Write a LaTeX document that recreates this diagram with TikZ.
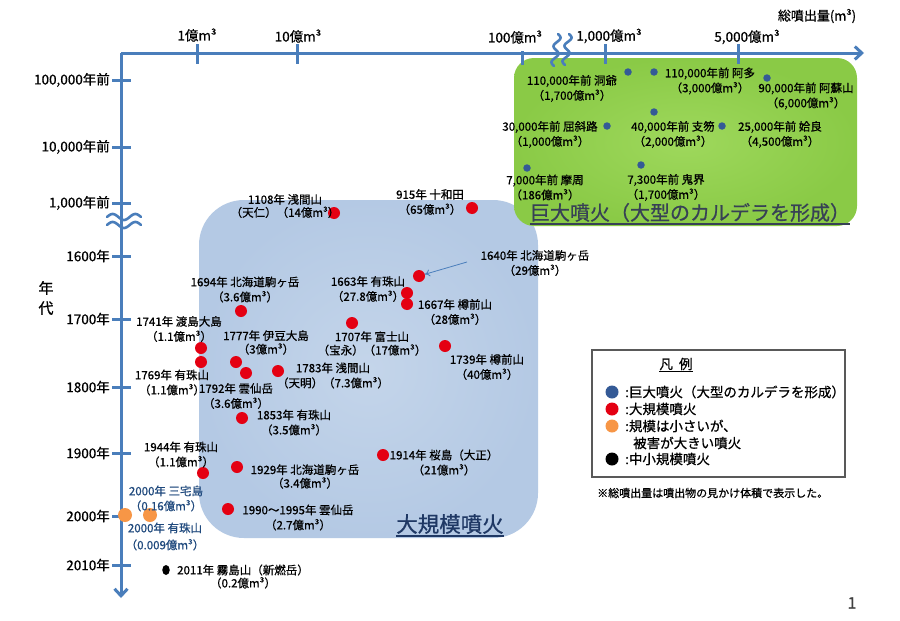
\documentclass[tikz,border=0pt]{standalone}
\usepackage{fontspec}
\setmainfont{Noto Sans CJK JP}[RawFeature={embolden=0.7}]
\usetikzlibrary{arrows.meta,shapes.geometric}
\definecolor{axisblue}{RGB}{74,126,187}
\definecolor{dotred}{RGB}{228,0,18}
\definecolor{dotblue}{RGB}{52,90,150}
\definecolor{dotorange}{RGB}{247,150,70}
\definecolor{bluein}{RGB}{196,213,234}
\definecolor{blueout}{RGB}{180,201,228}
\definecolor{greenin}{RGB}{158,216,92}
\definecolor{greenout}{RGB}{138,202,70}
\definecolor{navytext}{RGB}{31,73,125}
\definecolor{bigtitle}{RGB}{31,56,100}
\definecolor{titlegray}{RGB}{55,65,85}
\definecolor{legendgray}{RGB}{89,89,89}
\definecolor{pagegray}{RGB}{64,64,64}
\begin{document}
\begin{tikzpicture}[x=1pt,y=-1pt,
  lbl/.style={font=\fontsize{11.5}{15}\selectfont, align=center, inner sep=0pt, text=black},
  axlbl/.style={font=\fontsize{13.5}{16}\selectfont, inner sep=0pt},
  lgtext/.style={font=\fontsize{13.5}{16}\selectfont, inner sep=0pt, anchor=west},
  rdot/.style={circle, fill=dotred, minimum size=12pt, inner sep=0pt},
  bdot/.style={circle, fill=dotblue, minimum size=7.5pt, inner sep=0pt},
  odot/.style={circle, fill=dotorange, minimum size=14pt, inner sep=0pt},
  lgdot/.style={circle, minimum size=13pt, inner sep=0pt},
  axisline/.style={draw=axisblue, line width=3pt},
  axtick/.style={draw=axisblue, line width=3pt},
  wave/.style={draw=axisblue, line width=2.6pt, line cap=round},
]
\useasboundingbox (0,0) rectangle (900,621);
\fill[white] (0,0) rectangle (900,621);

% ---- background boxes ----
\shade[rounded corners=45pt, inner color=bluein, outer color=blueout] (199,200) rectangle (538,538);
\shade[rounded corners=20pt, inner color=greenin, outer color=greenout] (514,58) rectangle (857,226);

% ---- axes ----
\coordinate (origin) at (121,53);
\coordinate (xend) at (864,53);
\coordinate (yend) at (121,598);
\draw[axisline, -{Straight Barb[length=7pt,width=13pt]}] (origin) -- (xend);
\draw[axisline, -{Straight Barb[length=7pt,width=13pt]}] (origin) -- (yend);

% top ticks
\foreach \tx in {197,297,605,738} \draw[axtick] (\tx,44) -- (\tx,64);
\draw[axtick] (522,51) -- (522,65);
% left ticks
\foreach \ty in {80,147,203,256,319,387,453,516,565} \draw[axtick] (112,\ty) -- (131,\ty);

% break marks
\draw[wave] plot[domain=0:1, samples=40, smooth] ({558 - 4*\x + 3*sin(720*\x)}, {34 + 32*\x});
\draw[wave] plot[domain=0:1, samples=40, smooth] ({569 - 4*\x + 3*sin(720*\x)}, {34 + 31*\x});
\draw[wave] plot[domain=0:1, samples=40, smooth] ({107 + 34*\x}, {217 - 3*sin(540*\x)});
\draw[wave] plot[domain=0:1, samples=40, smooth] ({107 + 34*\x}, {225 - 3*sin(540*\x)});

% axis labels
\node[axlbl] (t1) at (197,35) {1億m³};
\node[axlbl] (t10) at (298,36) {10億m³};
\node[axlbl] (t100) at (515,37) {100億m³};
\node[axlbl] (t1000) at (609,36) {1,000億m³};
\node[axlbl] (t5000) at (747,37) {5,000億m³};
\node[axlbl, font=\fontsize{13}{15}\selectfont] (xtitle) at (817,16) {総噴出量(m³)};

\node[axlbl, anchor=east] (y1) at (110,80) {100,000年前};
\node[axlbl, anchor=east] (y2) at (110,147) {10,000年前};
\node[axlbl, anchor=east] (y3) at (110,203) {1,000年前};
\node[axlbl, anchor=east] (y4) at (110,256) {1600年};
\node[axlbl, anchor=east] (y5) at (110,319) {1700年};
\node[axlbl, anchor=east] (y6) at (110,387) {1800年};
\node[axlbl, anchor=east] (y7) at (110,453) {1900年};
\node[axlbl, anchor=east] (y8) at (110,516) {2000年};
\node[axlbl, anchor=east] (y9) at (110,565) {2010年};
\node[font=\fontsize{15}{20}\selectfont, align=center, inner sep=0pt] (ytitle) at (46,298) {年\\代};

% ---- giant eruptions (green box) ----
\node[bdot] (d_toya) at (628,72) {};
\node[lbl] (l_toya) at (572,88.5) {110,000年前 洞爺\\（1,700億m³）};
\node[bdot] (d_ata) at (654,72) {};
\node[lbl] (l_ata) at (710,81) {110,000年前 阿多\\（3,000億m³）};
\node[bdot] (d_aso) at (767,78) {};
\node[lbl] (l_aso) at (806,96) {90,000年前 阿蘇山\\（6,000億m³）};
\node[bdot] (d_kus) at (607,126) {};
\node[lbl] (l_kus) at (550,134.5) {30,000年前 屈斜路\\（1,000億m³）};
\node[bdot] (d_shi) at (654,112) {};
\node[lbl] (l_shi) at (673,134.5) {40,000年前 支笏\\（2,000億m³）};
\node[bdot] (d_aira) at (722,126) {};
\node[lbl] (l_aira) at (780,134.5) {25,000年前 姶良\\（4,500億m³）};
\node[bdot] (d_mas) at (527,168) {};
\node[lbl] (l_mas) at (545,187.5) {7,000年前 摩周\\（186億m³）};
\node[bdot] (d_kik) at (641,165) {};
\node[lbl] (l_kik) at (666,187.5) {7,300年前 鬼界\\（1,700億m³）};

\node[font=\fontsize{20}{22}\selectfont, text=titlegray, inner sep=0pt] (gtitle) at (690,212.5) {巨大噴火（大型のカルデラを形成）};
\draw[titlegray, line width=1.8pt] ([yshift=-1.5pt]gtitle.south west) -- ([yshift=-1.5pt]gtitle.south east);

% ---- large eruptions (blue box) ----
\node[rdot] (r1108) at (334,213) {};
\node[lbl, font=\fontsize{11.5}{13}\selectfont] (l1108) at (285,206) {1108年 浅間山\\（天仁）（14億m³）};
\node[rdot] (r915) at (472,208) {};
\node[lbl] (l915) at (430,202) {915年 十和田\\（65億m³）};
\node[rdot] (r1640) at (419,276) {};
\node[lbl] (l1640) at (535,263) {1640年 北海道駒ヶ岳\\（29億m³）};
\coordinate (a1640) at (467,262);
\draw[axisblue, line width=0.8pt, -{To[length=5pt,width=7pt]}] (a1640) -- (r1640);
\node[rdot] (r1663) at (407,293) {};
\node[lbl] (l1663) at (368,289) {1663年 有珠山\\（27.8億m³）};
\node[rdot] (r1667) at (407,304) {};
\node[lbl] (l1667) at (455,312) {1667年 樽前山\\（28億m³）};
\node[rdot] (r1694) at (241,311) {};
\node[lbl] (l1694) at (245,289.5) {1694年 北海道駒ヶ岳\\（3.6億m³）};
\node[rdot] (r1707) at (352,323) {};
\node[lbl, font=\fontsize{11.5}{13.5}\selectfont] (l1707) at (372,343.5) {1707年 富士山\\（宝永）（17億m³）};
\node[rdot] (r1739) at (445,346) {};
\node[lbl] (l1739) at (487,367) {1739年 樽前山\\（40億m³）};
\node[rdot] (r1741) at (201,348) {};
\node[lbl] (l1741) at (179,329) {1741年 渡島大島\\（1.1億m³）};
\node[rdot] (r1769) at (201,362) {};
\node[lbl] (l1769) at (172,382.5) {1769年 有珠山\\（1.1億m³）};
\node[rdot] (r1777) at (236,362) {};
\node[lbl, font=\fontsize{11.5}{13.5}\selectfont] (l1777) at (266,342.5) {1777年 伊豆大島\\（3億m³）};
\node[rdot] (r1792) at (246,373) {};
\node[lbl] (l1792) at (236,396) {1792年 雲仙岳\\（3.6億m³）};
\node[rdot] (r1783) at (278,371) {};
\node[lbl] (l1783) at (333,375.5) {1783年 浅間山\\（天明）（7.3億m³）};
\node[rdot] (r1853) at (242,418) {};
\node[lbl] (l1853) at (294,422.5) {1853年 有珠山\\（3.5億m³）};
\node[rdot] (r1944) at (203,473) {};
\node[lbl] (l1944) at (181,454.5) {1944年 有珠山\\（1.1億m³）};
\node[rdot] (r1929) at (237,467) {};
\node[lbl, font=\fontsize{11.5}{13.5}\selectfont] (l1929) at (305,476.5) {1929年 北海道駒ヶ岳\\（3.4億m³）};
\node[rdot] (r1914) at (383,455) {};
\node[lbl] (l1914) at (444,462.5) {1914年 桜島（大正）\\（21億m³）};
\node[rdot] (r1990) at (228,509) {};
\node[lbl] (l1990) at (298,517.5) {1990～1995年 雲仙岳\\（2.7億m³）};

\node[font=\fontsize{21.5}{23}\selectfont, text=bigtitle, inner sep=0pt] (btitle) at (450,524) {大規模噴火};
\draw[bigtitle, line width=1.8pt] ([yshift=-2pt]btitle.south west) -- ([yshift=-2pt]btitle.south east);

% ---- small but damaging / small-medium ----
\node[odot] (o_miy) at (125,515) {};
\node[odot] (o_usu) at (150,515) {};
\node[lbl, text=navytext] (l_miy) at (166,498.5) {2000年 三宅島\\（0.16億m³）};
\node[lbl, text=navytext, font=\fontsize{11.5}{17}\selectfont] (l_usu) at (165,536.5) {2000年 有珠山\\（0.009億m³）};
\node[ellipse, fill=black, minimum width=7.5pt, minimum height=10pt, inner sep=0pt] (k2011) at (166,570) {};
\node[lbl, font=\fontsize{11.5}{13}\selectfont] (l2011) at (243,576.5) {2011年 霧島山（新燃岳）\\（0.2億m³）};

% ---- legend ----
\node[draw=legendgray, line width=1.3pt, minimum width=253pt, minimum height=127pt, inner sep=0pt] (legend) at (718.5,413.5) {};
\node[font=\fontsize{13.5}{16}\selectfont, inner sep=0pt] (lgtitle) at (676,365) {\underline{凡\ \ 例}};
\node[lgdot, fill=dotblue] (lg1) at (612,392) {};
\node[lgtext] (lt1) at (625,392) {:巨大噴火（大型のカルデラを形成）};
\node[lgdot, fill=dotred] (lg2) at (612,409) {};
\node[lgtext] (lt2) at (625,409) {:大規模噴火};
\node[lgdot, fill=dotorange] (lg3) at (612,426) {};
\node[lgtext] (lt3) at (625,426) {:規模は小さいが、};
\node[lgtext] (lt3b) at (633,443) {被害が大きい噴火};
\node[lgdot, fill=black] (lg4) at (612,459) {};
\node[lgtext] (lt4) at (625,459) {:中小規模噴火};
\node[font=\fontsize{11}{13}\selectfont, inner sep=0pt, anchor=west] (note) at (597,493) {※総噴出量は噴出物の見かけ体積で表示した。};

\node[font=\fontsize{16}{18}\selectfont, text=pagegray, inner sep=0pt] (pageno) at (852,603) {1};
\end{tikzpicture}
\end{document}
